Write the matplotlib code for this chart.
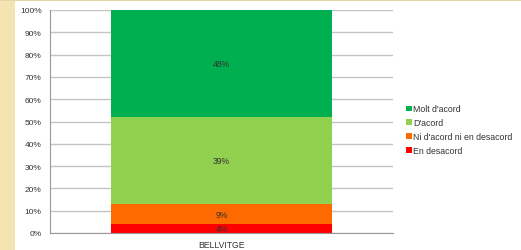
import matplotlib
matplotlib.use('Agg')
import matplotlib.pyplot as plt
from matplotlib.patches import Rectangle

# data
categories = ['BELLVITGE']
series_names = ['En desacord', "Ni d'acord ni en desacord", "D'acord", "Molt d'acord"]
series_values = [4, 9, 39, 48]
series_colors = ['#FF0000', '#FF6A00', '#92D050', '#00B050']
y_ticks = list(range(0, 101, 10))

plt.rcParams['font.family'] = ['Liberation Sans', 'DejaVu Sans']

fig = plt.figure(figsize=(5.21, 2.51), dpi=100)
fig.patch.set_facecolor('white')

# decorative slide border (left stripe + top edge)
fig.patches.append(Rectangle((0, 0), 15 / 521, 1, transform=fig.transFigure,
                             facecolor='#F4E4B4', edgecolor='none', zorder=0))
fig.patches.append(Rectangle((0, 1 - 2 / 251), 1, 2 / 251, transform=fig.transFigure,
                             facecolor='#E6D3A8', edgecolor='none', zorder=0))

ax = fig.add_axes([50 / 521, 1 - 234 / 251, 343 / 521, 223 / 251])

bottom = 0
handles = []
for name, val, col in zip(series_names, series_values, series_colors):
    b = ax.bar(0, val, bottom=bottom, width=0.645, color=col, label=name, zorder=2)
    handles.append(b)
    ax.text(0, bottom + val / 2, f'{val}%', ha='center', va='center',
            fontsize=6.2, color='#333333', zorder=3)
    bottom += val

ax.set_xlim(-0.5, 0.5)
ax.set_ylim(0, 100)
ax.set_yticks(y_ticks)
ax.set_yticklabels([f'{t}%' for t in y_ticks])
ax.set_xticks([0])
ax.set_xticklabels(categories)
ax.tick_params(axis='y', length=0, pad=6, labelsize=6, labelcolor='#333333')
ax.tick_params(axis='x', length=0, pad=5, labelsize=6.2, labelcolor='#333333')
ax.grid(axis='y', color='#C4C4C4', linewidth=1.0, zorder=1)
ax.set_axisbelow(True)
for s in ['top', 'right']:
    ax.spines[s].set_visible(False)
ax.spines['left'].set_color('#999999')
ax.spines['bottom'].set_color('#999999')

fig.legend(handles[::-1], series_names[::-1], loc='upper left',
           bbox_to_anchor=(402 / 521, 1 - 101 / 251), frameon=False,
           fontsize=6.3, handlelength=0.6, handleheight=0.6, handletextpad=0.2,
           labelspacing=0.55, borderpad=0, labelcolor='#333333')

fig.savefig('out.png', dpi=100)
